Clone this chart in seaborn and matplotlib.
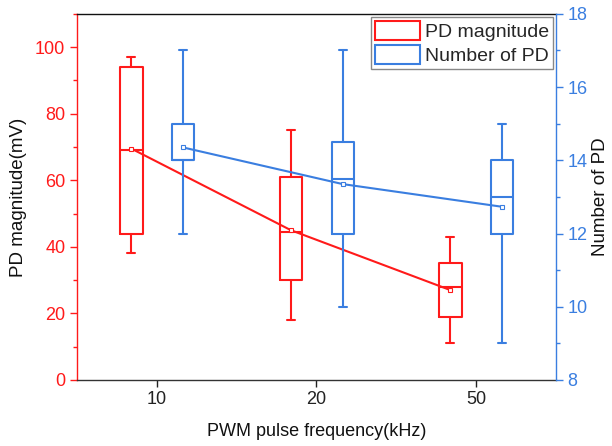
import numpy as np
import matplotlib
matplotlib.use("Agg")
import matplotlib.pyplot as plt
import matplotlib.patches as mpatches
from matplotlib.ticker import MultipleLocator
import seaborn as sns

# ── Data ─────────────────────────────────────────────────────────────────────
freq_labels = ["10", "20", "50"]

# PD magnitude (mV), left axis
mag_whislo = [38, 18, 11]
mag_q1     = [44, 30, 19]
mag_med    = [69, 44.5, 28]
mag_q3     = [94, 61, 35]
mag_whishi = [97, 75, 43]
mag_mean   = [69.5, 45, 27]

# Number of PD, right axis
num_whislo = [12, 10, 9]
num_q1     = [14, 12, 12]
num_med    = [14, 13.5, 13]
num_q3     = [15, 14.5, 14]
num_whishi = [17, 17, 15]
num_mean   = [14.35, 13.35, 12.73]

# ── Style ────────────────────────────────────────────────────────────────────
RED  = "#ff1a1a"
BLUE = "#3a7ee0"

sns.set_theme(style="ticks")
plt.rcParams["font.family"] = ["Liberation Sans", "DejaVu Sans"]


def make_stats(lo, q1, med, q3, hi, mean):
    return [dict(whislo=a, q1=b, med=c, q3=d, whishi=e, mean=f, fliers=[])
            for a, b, c, d, e, f in zip(lo, q1, med, q3, hi, mean)]


def box_kw(color):
    line = dict(color=color, linewidth=1.5)
    return dict(
        widths=0.14, capwidths=0.05, showmeans=True, showfliers=False,
        manage_ticks=False, patch_artist=False,
        boxprops=line, whiskerprops=line, capprops=line, medianprops=line,
        meanprops=dict(marker="s", markersize=3.2, markerfacecolor="white",
                       markeredgecolor=color, markeredgewidth=0.8),
    )


fig = plt.figure(figsize=(6.12, 4.46), dpi=100)
ax = fig.add_axes([0.126, 0.148, 0.782, 0.821])
ax2 = ax.twinx()

pos = np.arange(len(freq_labels))
pos_red = pos - 0.16
pos_blue = pos + 0.165

# red boxes + mean line
ax.bxp(make_stats(mag_whislo, mag_q1, mag_med, mag_q3, mag_whishi, mag_mean),
       positions=pos_red, **box_kw(RED))
sns.lineplot(x=pos_red, y=mag_mean, ax=ax, color=RED, linewidth=1.5,
             legend=False, zorder=1)

# blue boxes + mean line
ax2.bxp(make_stats(num_whislo, num_q1, num_med, num_q3, num_whishi, num_mean),
        positions=pos_blue, **box_kw(BLUE))
sns.lineplot(x=pos_blue, y=num_mean, ax=ax2, color=BLUE, linewidth=1.5,
             legend=False, zorder=1)

# ── Axes ─────────────────────────────────────────────────────────────────────
ax.set_xlim(-0.5, 2.5)
ax.set_ylim(0, 110)
ax2.set_ylim(8, 18)

ax.set_xticks(pos)
ax.set_xticklabels(freq_labels)
ax.yaxis.set_major_locator(MultipleLocator(20))
ax.yaxis.set_minor_locator(MultipleLocator(10))
ax2.yaxis.set_major_locator(MultipleLocator(2))
ax2.yaxis.set_minor_locator(MultipleLocator(1))

ax.tick_params(axis="x", direction="out", length=5, width=1, colors="#222222",
               labelsize=13, pad=3)
ax.tick_params(axis="y", which="major", direction="out", length=5, width=1,
               colors=RED, labelsize=13, labelcolor=RED)
ax.tick_params(axis="y", which="minor", direction="out", length=3, width=1,
               colors=RED)
ax2.tick_params(axis="y", which="major", direction="out", length=5, width=1,
                colors=BLUE, labelsize=13, labelcolor=BLUE)
ax2.tick_params(axis="y", which="minor", direction="out", length=3, width=1,
                colors=BLUE)

ax.set_xlabel("PWM pulse frequency(kHz)", fontsize=13, labelpad=11, color="#111111")
ax.set_ylabel("PD magnitude(mV)", fontsize=13.5, labelpad=6, color="#111111")
ax2.set_ylabel("Number of PD", fontsize=13.5, labelpad=3, color="#111111")

for a in (ax, ax2):
    for s in a.spines.values():
        s.set_linewidth(1.0)
ax.spines["left"].set_color(RED)
ax.spines["top"].set_color("#111111")
ax.spines["bottom"].set_color("#333333")
ax.spines["right"].set_visible(False)
ax2.spines["right"].set_color(BLUE)
for side in ("left", "top", "bottom"):
    ax2.spines[side].set_visible(False)

# ── Legend ───────────────────────────────────────────────────────────────────
handles = [
    mpatches.Patch(facecolor="none", edgecolor=RED, linewidth=1.5, label="PD magnitude"),
    mpatches.Patch(facecolor="none", edgecolor=BLUE, linewidth=1.5, label="Number of PD"),
]
leg = ax2.legend(handles=handles, loc="upper right", fontsize=14,
                 fancybox=False, framealpha=1, edgecolor="#888888",
                 borderaxespad=0.15, borderpad=0.2, handlelength=2.3,
                 handleheight=1.15, handletextpad=0.25, labelspacing=0.22)
leg.get_frame().set_linewidth(1.0)

fig.savefig("out.png", dpi=100)
